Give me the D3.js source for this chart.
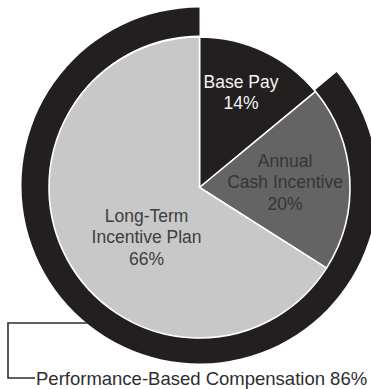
<!DOCTYPE html>
<html>
<head>
<meta charset="utf-8">
<script src="https://cdn.jsdelivr.net/npm/d3@7/dist/d3.min.js"></script>
<style>
  html, body { margin: 0; padding: 0; background: #ffffff; }
  svg { display: block; font-family: "Liberation Sans", Arial, Helvetica, sans-serif; }
</style>
</head>
<body>
<svg id="chart" width="371" height="389"></svg>
<script>
// Compensation mix
const categories = ["Base Pay", "Annual Cash Incentive", "Long-Term Incentive Plan"];
const shares = [14, 20, 66];
const labelLines = [["Base Pay", "14%"], ["Annual", "Cash Incentive", "20%"], ["Long-Term", "Incentive Plan", "66%"]];
const performanceCategories = ["Annual Cash Incentive", "Long-Term Incentive Plan"];
const performanceShare = 86;
const performanceLabel = "Performance-Based Compensation 86%";

const fills = ["#231f20", "#646464", "#c8c8c8"];
const textFills = ["#f4f4f4", "#363636", "#3e3e3e"];

const svg = d3.select("#chart");
const cx = 199.5, cy = 187.5, r = 150.5;
const ringInner = 150, ringOuter = 178, ringShiftY = -2;

const pie = d3.pie().sort(null).value(d => d);
const arcs = pie(shares);

// angle scale for the outer performance band: share -> radians
const angle = d3.scaleLinear().domain([0, 100]).range([0, 2 * Math.PI]);

// outer band spanning the performance-based portion (ends at 12 o'clock)
const ringArc = d3.arc().innerRadius(ringInner).outerRadius(ringOuter);
svg.append("path")
  .attr("transform", `translate(${cx},${cy + ringShiftY})`)
  .attr("d", ringArc({ startAngle: angle(100 - performanceShare), endAngle: angle(100) }))
  .attr("fill", "#231f20");

// pie slices
const g = svg.append("g").attr("transform", `translate(${cx},${cy})`);
const arc = d3.arc().innerRadius(0).outerRadius(r);
g.selectAll("path.slice")
  .data(arcs)
  .join("path")
  .attr("class", "slice")
  .attr("d", arc)
  .attr("fill", (d, i) => fills[i])
  .attr("stroke", "#ffffff")
  .attr("stroke-width", 1.6)
  .attr("stroke-linejoin", "round");

// slice labels, placed around each slice's centroid
const labelArc = d3.arc().innerRadius(0).outerRadius(r);
const labelNudge = [[9.5, -27], [10.5, -1], [13, 13]];
const lh = 21.5;
arcs.forEach((d, i) => {
  const c = labelArc.centroid(d);
  const lx = c[0] + labelNudge[i][0], ly = c[1] + labelNudge[i][1];
  const lines = labelLines[i];
  const t = g.append("text")
    .attr("text-anchor", "middle")
    .attr("font-size", "17.5px")
    .attr("fill", textFills[i]);
  lines.forEach((s, k) => {
    t.append("tspan")
      .attr("x", lx)
      .attr("y", ly + (k - (lines.length - 1) / 2) * lh)
      .attr("dy", "0.36em")
      .text(s);
  });
});

// bracket from the outer band down to the performance label
const bracketY = 323, labelY = 378, bracketX = 8;
const dy = bracketY - (cy + ringShiftY);
const meetX = cx - Math.sqrt(ringOuter * ringOuter - dy * dy);
svg.append("path")
  .attr("d", `M${meetX + 1},${bracketY}H${bracketX}V${labelY}H${35}`)
  .attr("fill", "none")
  .attr("stroke", "#2e2e2e")
  .attr("stroke-width", 1.6);

svg.append("text")
  .attr("x", 36)
  .attr("y", labelY)
  .attr("dy", "0.36em")
  .attr("font-size", "18.5px")
  .attr("fill", "#2e2e2e")
  .text(performanceLabel);
</script>
</body>
</html>
